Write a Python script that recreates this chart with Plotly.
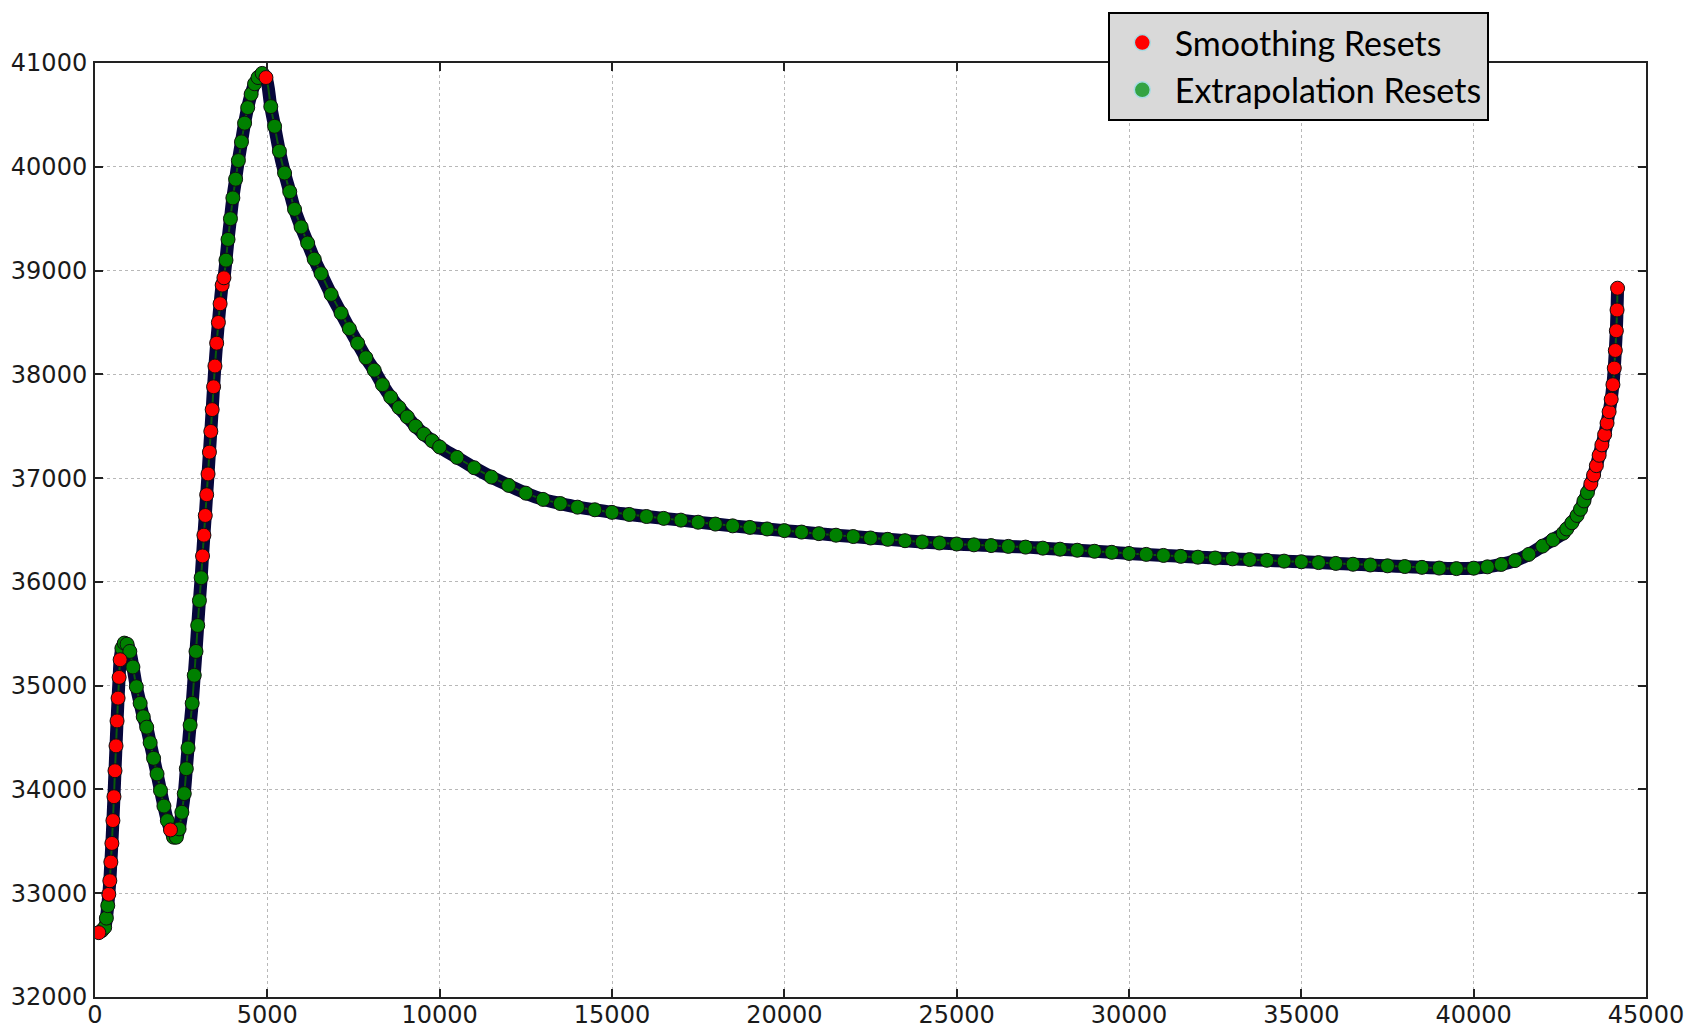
import plotly.graph_objects as go

# Points: x position, value, and reset type (S = smoothing, E = extrapolation)
x_vals = [110, 200, 280, 330, 370, 400, 430, 460, 490, 520, 550, 580, 610, 640, 670, 700, 730,
          780, 850, 930, 1010, 1100, 1200, 1310, 1400, 1500, 1600, 1700, 1800, 1900, 2000, 2100,
          2190, 2280, 2360, 2440, 2520, 2590, 2650, 2700, 2760, 2820, 2880, 2930, 2980, 3030, 3080,
          3120, 3160, 3200, 3240, 3280, 3320, 3360, 3400, 3440, 3480, 3530, 3580, 3630, 3690, 3740,
          3800, 3860, 3930, 4000, 4080, 4160, 4250, 4340, 4430, 4530, 4630, 4730, 4850, 4960,
          5100, 5210, 5350, 5500, 5650, 5790, 5980, 6170, 6360, 6560, 6850, 7140, 7380, 7620, 7860,
          8100, 8340, 8580, 8820, 9060, 9300, 9540, 9780,
          10000, 10500, 11000, 11500, 12000, 12500, 13000, 13500, 14000, 14500, 15000, 15500,
          16000, 16500, 17000, 17500, 18000, 18500, 19000, 19500, 20000, 20500, 21000, 21500,
          22000, 22500, 23000, 23500, 24000, 24500, 25000, 25500, 26000, 26500, 27000, 27500,
          28000, 28500, 29000, 29500, 30000, 30500, 31000, 31500, 32000, 32500, 33000, 33500,
          34000, 34500, 35000, 35500, 36000, 36500, 37000, 37500, 38000, 38500, 39000, 39500,
          40000, 40400, 40800, 41200, 41600, 42000, 42300, 42600,
          42700, 42850, 43000, 43100, 43200, 43300, 43400, 43480, 43560, 43640, 43720, 43800,
          43870, 43930, 43990, 44040, 44080, 44110, 44140, 44160, 44175]

y_vals = [32620, 32640, 32670, 32760, 32880, 32990, 33120, 33300, 33480, 33700, 33930, 34180, 34420,
          34660, 34880, 35080, 35250,
          35360, 35410, 35400, 35330, 35180, 34990, 34830, 34700, 34600, 34450, 34300, 34150, 33990,
          33840, 33700,
          33610, 33540, 33540, 33620, 33780, 33960, 34200, 34400, 34620, 34830, 35100, 35330, 35580,
          35820, 36040,
          36250, 36450, 36640, 36840, 37040, 37250, 37450, 37660, 37880, 38080, 38300, 38500, 38680,
          38860, 38930,
          39100, 39300, 39500, 39700, 39880, 40060, 40240, 40420, 40570, 40700, 40800, 40860, 40900,
          40860,
          40580, 40390, 40150, 39940, 39760, 39590, 39420, 39265, 39110, 38970, 38770, 38590, 38440,
          38300, 38160, 38040, 37900, 37780, 37680, 37590, 37500, 37425, 37360,
          37300, 37200, 37100, 37010, 36930, 36855, 36795, 36755, 36720, 36695, 36670, 36650,
          36630, 36612, 36595, 36575, 36557, 36540, 36525, 36510, 36494, 36480, 36465, 36450,
          36437, 36423, 36410, 36397, 36385, 36375, 36365, 36357, 36350, 36342, 36335, 36325,
          36315, 36305, 36295, 36285, 36274, 36265, 36255, 36246, 36238, 36230, 36222, 36215,
          36208, 36200, 36194, 36186, 36178, 36170, 36163, 36155, 36148, 36140, 36133, 36128,
          36132, 36145, 36168, 36205, 36265, 36345, 36405, 36470,
          36510, 36570, 36640, 36700, 36780, 36860, 36945, 37030, 37120, 37220, 37320, 37420,
          37530, 37640, 37760, 37900, 38060, 38230, 38420, 38620, 38830]

reset_kind = (["S"] + ["E"] * 4 + ["S"] * 12 + ["E"] * 15 + ["S"] + ["E"] * 14 + ["S"] * 15
              + ["E"] * 13 + ["S"] + ["E"] * 25 + ["E"] * 72 + ["S"] * 21)

series_names = {"S": "Smoothing Resets", "E": "Extrapolation Resets"}
marker_colors = {"S": "#ff0000", "E": "#008000"}
legend_colors = {"S": "#ff0000", "E": "#33a343"}

x_ticks = [0, 5000, 10000, 15000, 20000, 25000, 30000, 35000, 40000, 45000]
y_ticks = [32000, 33000, 34000, 35000, 36000, 37000, 38000, 39000, 40000, 41000]

fig = go.Figure()

# dark connecting line underneath the markers
fig.add_trace(go.Scatter(x=x_vals, y=y_vals, mode="lines",
                         line=dict(color="#06063a", width=13, shape="spline"),
                         showlegend=False, hoverinfo="skip"))
fig.add_trace(go.Scatter(x=x_vals, y=y_vals, mode="lines",
                         line=dict(color="#0a5a0a", width=2, shape="spline"),
                         showlegend=False, hoverinfo="skip"))

for k in ["E", "S"]:
    xs = [x for x, t in zip(x_vals, reset_kind) if t == k]
    ys = [y for y, t in zip(y_vals, reset_kind) if t == k]
    fig.add_trace(go.Scatter(x=xs, y=ys, mode="markers", name=series_names[k],
                             marker=dict(color=marker_colors[k], size=14,
                                         line=dict(color="#101010", width=1)),
                             showlegend=False))

for k in ["S", "E"]:
    fig.add_trace(go.Scatter(x=[None], y=[None], mode="markers", name=series_names[k],
                             marker=dict(color=legend_colors[k], size=30,
                                         line=dict(color="#a8dce4", width=1.5)),
                             legendgroup=k))

axis_common = dict(showline=True, linecolor="#222222", linewidth=2, mirror="ticks",
                   ticks="inside", ticklen=8, tickwidth=1.5, tickcolor="#222222",
                   showgrid=True, gridcolor="#b8b8b8", griddash="dot", gridwidth=1,
                   zeroline=False, automargin=False,
                   tickfont=dict(family="DejaVu Sans", size=24, color="#1a1a1a"))

fig.update_xaxes(range=[0, 45000], tickvals=x_ticks, ticktext=[str(v) for v in x_ticks],
                 ticklabelstandoff=-5, **axis_common)
fig.update_yaxes(range=[32000, 41000], tickvals=y_ticks, ticktext=[str(v) for v in y_ticks],
                 ticklabelstandoff=1, **axis_common)

fig.update_layout(
    width=1687, height=1028,
    margin=dict(l=95, r=41, t=63, b=31, autoexpand=False),
    paper_bgcolor="white", plot_bgcolor="white",
    legend=dict(x=0.653, y=1.0546, xanchor="left", yanchor="top",
                bgcolor="#d9d9d9", bordercolor="#000000", borderwidth=2,
                font=dict(family="Lato", size=34, color="#000000"),
                itemwidth=55, tracegroupgap=2, traceorder="normal"),
)

fig.write_html("out.html", config={"displayModeBar": False},
               post_script="document.body.style.margin='0';document.body.style.overflow='hidden';")
